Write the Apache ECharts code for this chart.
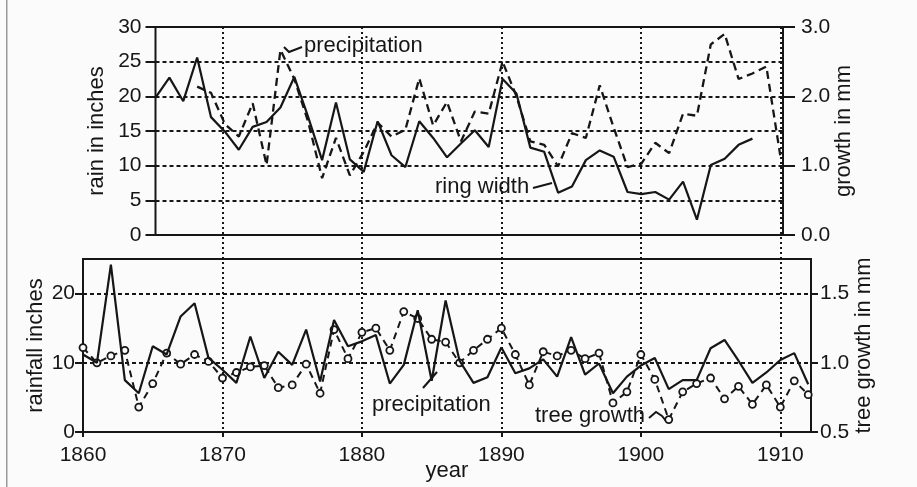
<!DOCTYPE html>
<html><head><meta charset="utf-8">
<script src="https://cdn.jsdelivr.net/npm/echarts@6/dist/echarts.min.js"></script>
<style>html,body{margin:0;padding:0;background:#fbfbfb}#c{width:917px;height:487px}</style>
</head><body><div id="c"></div>
<script>
// ---- data ----
const ringStartYear = 1865;   // top panel, ring width (mm, right axis)
const ringWidth = [1.98,2.27,1.93,2.56,1.70,1.49,1.23,1.56,1.63,1.84,2.28,1.70,1.08,1.91,1.09,0.91,1.64,1.15,0.98,1.64,1.40,1.12,1.32,1.51,1.27,2.25,2.04,1.26,1.20,0.61,0.70,1.08,1.22,1.13,0.62,0.59,0.62,0.51,0.77,0.22,1.01,1.10,1.30,1.39];
const topPrecipStartYear = 1868; // top panel, precipitation (inches, left axis)
const topPrecip = [21.4,20.5,16.0,14.2,19.0,10.1,26.7,22.5,16.3,8.2,14.0,8.6,12.0,16.2,14.2,15.2,22.6,15.8,19.2,13.5,17.8,17.5,25.0,20.0,13.5,13.0,9.9,14.7,14.0,21.6,15.5,9.8,10.3,13.3,11.8,17.5,17.2,27.5,29.0,22.5,23.3,24.3,11.5];
const bottomStartYear = 1860; // bottom panel
const bottomPrecip = [11.2,10.0,24.2,7.5,5.6,12.4,11.2,16.7,18.6,10.7,9.0,7.1,13.8,7.8,11.6,9.7,14.8,7.3,16.2,12.4,13.1,14.0,7.0,9.7,17.6,7.4,19.0,10.3,7.1,7.9,12.2,8.5,9.2,10.5,8.0,13.7,8.3,9.9,5.6,8.0,9.6,10.7,6.2,7.5,7.5,12.1,13.3,10.3,7.1,8.6,10.4,11.4,6.9];
const treeGrowth = [1.11,1.00,1.05,1.09,0.68,0.85,1.07,0.99,1.06,1.01,0.89,0.93,0.97,0.98,0.82,0.84,0.99,0.78,1.24,1.03,1.22,1.25,1.09,1.37,1.32,1.17,1.15,1.00,1.09,1.17,1.25,1.06,0.84,1.08,1.05,1.09,1.03,1.07,0.71,0.79,1.06,0.88,0.59,0.79,0.85,0.89,0.74,0.83,0.70,0.84,0.68,0.87,0.77];
const xTickYears = [1860,1870,1880,1890,1900,1910];
const topLeftTicks = [0,5,10,15,20,25,30];
const topRightTicks = [0,1,2,3];
const bottomLeftTicks = [0,10,20];
const bottomRightTicks = [0.5,1.0,1.5];

function pairs(start, arr){ return arr.map((v,i)=>[start+i, v]); }

const INK = '#161616';
const FONT = 'Liberation Sans';
const tickFont = {color: INK, fontFamily: FONT, fontSize: 21};
const nameFont = {color: INK, fontFamily: FONT, fontSize: 22};
const hDash = {color: INK, width: 2, type: [4,3]};

const chart = echarts.init(document.getElementById('c'), null, {renderer:'canvas'});
chart.setOption({
  backgroundColor: '#fbfbfb',
  animation: false,
  grid: [
    {left:155.5, right:134, top:27, height:208, show:true, borderColor:INK, borderWidth:2, backgroundColor:'transparent'},
    {left:83, right:106, top:259, height:173, show:true, borderColor:INK, borderWidth:2, backgroundColor:'transparent'},
    {left:83, right:106, top:27, height:405, show:false}
  ],
  xAxis: [
    {type:'value', gridIndex:0, min:1865, max:1910.2, show:true, axisLine:{show:false}, axisTick:{show:false}, axisLabel:{show:false}, splitLine:{show:false}},
    {type:'value', gridIndex:1, min:1860, max:1912.2, interval:10,
      axisLine:{show:false}, axisTick:{show:true, length:5, lineStyle:{color:INK,width:2}, customValues:xTickYears},
      axisLabel:Object.assign({margin:13, customValues:xTickYears, formatter:v=>String(Math.round(v))}, tickFont),
      splitLine:{show:false},
      name:'year', nameLocation:'middle', nameGap:28, nameMoveOverlap:false, nameTextStyle:nameFont},
    {type:'value', gridIndex:2, min:1860, max:1912.2, interval:10,
      axisLine:{show:false}, axisTick:{show:false}, axisLabel:{show:false},
      splitLine:{show:true, showMinLine:false, showMaxLine:false, lineStyle:{color:INK, width:2, type:[2,3]}}}
  ],
  yAxis: [
    {type:'value', gridIndex:0, position:'left', min:0, max:30, interval:5,
      axisLine:{show:false}, axisTick:{show:true, length:10, lineStyle:{color:INK,width:2}, customValues:topLeftTicks},
      axisLabel:Object.assign({margin:14, customValues:topLeftTicks}, tickFont),
      splitLine:{show:true, showMinLine:false, showMaxLine:false, lineStyle:hDash},
      name:'rain in inches', nameLocation:'middle', nameRotate:90, nameGap:48, nameMoveOverlap:false, nameTextStyle:nameFont},
    {type:'value', gridIndex:0, position:'right', min:0, max:3, interval:1,
      axisLine:{show:false}, axisTick:{show:true, length:12, lineStyle:{color:INK,width:2}, customValues:topRightTicks},
      axisLabel:Object.assign({margin:18, customValues:topRightTicks, formatter:v=>Number(v).toFixed(1)}, tickFont),
      splitLine:{show:false},
      name:'growth in mm', nameLocation:'middle', nameRotate:90, nameGap:50, nameMoveOverlap:false, nameTextStyle:nameFont},
    {type:'value', gridIndex:1, position:'left', min:0, max:25, interval:10,
      axisLine:{show:false}, axisTick:{show:true, length:8, lineStyle:{color:INK,width:2}, customValues:bottomLeftTicks},
      axisLabel:Object.assign({margin:8, customValues:bottomLeftTicks}, tickFont),
      splitLine:{show:true, showMinLine:false, showMaxLine:true, lineStyle:hDash},
      name:'rainfall inches', nameLocation:'middle', nameRotate:90, nameGap:36, nameMoveOverlap:false, nameTextStyle:nameFont},
    {type:'value', gridIndex:1, position:'right', min:0.5, max:1.75, interval:0.5,
      axisLine:{show:false}, axisTick:{show:true, length:7, lineStyle:{color:INK,width:2}, customValues:bottomRightTicks},
      axisLabel:Object.assign({margin:9, customValues:bottomRightTicks, formatter:v=>Number(v).toFixed(1)}, tickFont),
      splitLine:{show:false},
      name:'tree growth in mm', nameLocation:'middle', nameRotate:90, nameGap:42, nameMoveOverlap:false, nameTextStyle:nameFont},
    {type:'value', gridIndex:2, min:0, max:1, show:false}
  ],
  series: [
    {name:'ring width', type:'line', xAxisIndex:0, yAxisIndex:1, data:pairs(ringStartYear, ringWidth),
      showSymbol:false, symbol:'none', lineStyle:{color:INK, width:2.2}, z:4},
    {name:'precipitation', type:'line', xAxisIndex:0, yAxisIndex:0, data:pairs(topPrecipStartYear, topPrecip),
      showSymbol:false, symbol:'none', lineStyle:{color:INK, width:2.3, type:[8,5]}, z:3},
    {name:'precipitation (bottom)', type:'line', xAxisIndex:1, yAxisIndex:2, data:pairs(bottomStartYear, bottomPrecip),
      showSymbol:false, symbol:'none', lineStyle:{color:INK, width:2.2}, z:4},
    {name:'tree growth', type:'line', xAxisIndex:1, yAxisIndex:3, data:pairs(bottomStartYear, treeGrowth),
      symbol:'circle', symbolSize:7, showSymbol:true,
      itemStyle:{color:'#fbfbfb', borderColor:INK, borderWidth:1.8},
      lineStyle:{color:INK, width:2, type:[7,5]}, z:3}
  ],
  graphic: [
    {type:'rect', shape:{x:6, y:0, width:1.5, height:487}, style:{fill:'#9a9a9a'}, silent:true},
    {type:'text', x:304, y:46, style:{text:'precipitation', font:'22px "Liberation Sans"', fill:INK, verticalAlign:'middle'}},
    {type:'polyline', shape:{points:[[302,47],[289,52],[284,47]]}, style:{stroke:INK, lineWidth:2, fill:null}},
    {type:'text', x:435, y:187, style:{text:'ring width', font:'22px "Liberation Sans"', fill:INK, verticalAlign:'middle'}},
    {type:'line', shape:{x1:533, y1:188, x2:552, y2:183}, style:{stroke:INK, lineWidth:2}},
    {type:'text', x:372, y:405, style:{text:'precipitation', font:'22px "Liberation Sans"', fill:INK, verticalAlign:'middle'}},
    {type:'line', shape:{x1:423, y1:388, x2:437, y2:372}, style:{stroke:INK, lineWidth:2}},
    {type:'text', x:535, y:416, style:{text:'tree growth', font:'22px "Liberation Sans"', fill:INK, verticalAlign:'middle'}},
    {type:'polyline', shape:{points:[[649,418],[656,412],[662,416],[666,421]]}, style:{stroke:INK, lineWidth:2, fill:null}}
  ]
});
</script>
</body></html>
